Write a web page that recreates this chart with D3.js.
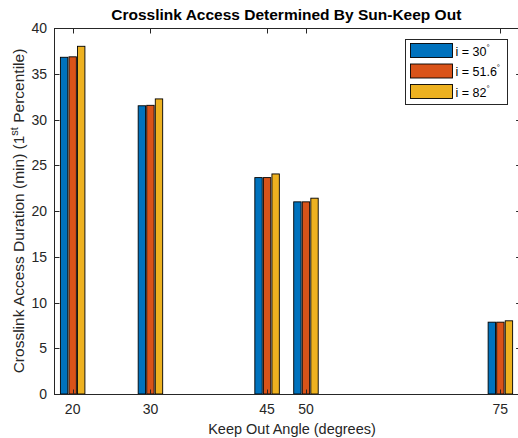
<!DOCTYPE html>
<html>
<head>
<meta charset="utf-8">
<script src="https://cdn.jsdelivr.net/npm/d3@7"></script>
<style>
  html, body { margin: 0; padding: 0; background: #fff; }
  svg { display: block; font-family: "Liberation Sans", Arial, Helvetica, sans-serif; }
</style>
</head>
<body>
<svg id="chart" width="518" height="438"></svg>
<script>
// Keep-out angles (degrees) on the x axis
const angles = [20, 30, 45, 50, 75];
// Orbit inclinations, one bar series each
const seriesNames = ["i = 30", "i = 51.6", "i = 82"];
const seriesColors = ["#0072BD", "#D95319", "#EDB120"];
// Crosslink access duration (min), 1st percentile
const inc30  = [36.8, 31.5, 23.65, 21.0, 7.85];
const inc516 = [36.85, 31.55, 23.65, 21.0, 7.85];
const inc82  = [38.0, 32.25, 24.05, 21.4, 8.0];
const yTicks = [0, 5, 10, 15, 20, 25, 30, 35, 40];

const seriesValues = [inc30, inc516, inc82];

const svg = d3.select("#chart");
const plot = { left: 54, right: 520.6, top: 28, bottom: 394 };
const axisColor = "#262626";
const tickFont = 14, titleFont = 15.5;

const x = d3.scaleLinear().domain([17.6, 77.6]).range([plot.left, plot.right]);
const y = d3.scaleLinear().domain([0, 40]).range([plot.bottom, plot.top]);

// grouped bar geometry in data units
const slot = 1.1, barW = 0.95;

// bars
seriesValues.forEach((vals, si) => {
  svg.append("g")
    .selectAll("rect")
    .data(vals.map((v, i) => ({ a: angles[i], v })))
    .join("rect")
    .attr("x", d => x(d.a + (si - 1) * slot - barW / 2))
    .attr("width", d => x(d.a + barW / 2) - x(d.a - barW / 2))
    .attr("y", d => y(d.v))
    .attr("height", d => y(0) - y(d.v))
    .attr("fill", seriesColors[si])
    .attr("stroke", "#000")
    .attr("stroke-width", 0.9);
});

// axes (ticks point inward, box around the plot)
const tickLen = 5;
const axisG = svg.append("g").attr("fill", "none").attr("stroke", axisColor).attr("stroke-width", 1);
axisG.append("rect")
  .attr("x", plot.left + 0.5).attr("y", plot.top + 0.5)
  .attr("width", plot.right - plot.left).attr("height", plot.bottom - plot.top);

angles.forEach(a => {
  const px = Math.round(x(a)) + 0.5;
  axisG.append("line").attr("x1", px).attr("x2", px).attr("y1", plot.bottom + 0.5).attr("y2", plot.bottom + 0.5 - tickLen);
  axisG.append("line").attr("x1", px).attr("x2", px).attr("y1", plot.top + 0.5).attr("y2", plot.top + 0.5 + tickLen);
});
yTicks.forEach(t => {
  const py = Math.round(y(t)) + 0.5;
  axisG.append("line").attr("x1", plot.left + 0.5).attr("x2", plot.left + 0.5 + tickLen).attr("y1", py).attr("y2", py);
  axisG.append("line").attr("x1", plot.right + 0.5).attr("x2", plot.right + 0.5 - tickLen).attr("y1", py).attr("y2", py);
});

// tick labels
const lab = svg.append("g").attr("fill", axisColor).attr("font-size", tickFont);
angles.forEach(a => {
  lab.append("text").attr("x", x(a)).attr("y", plot.bottom + 20)
    .attr("text-anchor", "middle").text(a);
});
yTicks.forEach(t => {
  lab.append("text").attr("x", plot.left - 7).attr("y", y(t) + 5)
    .attr("text-anchor", "end").text(t);
});

// axis titles
svg.append("text")
  .attr("x", 292).attr("y", 434)
  .attr("text-anchor", "middle").attr("font-size", 14.5).attr("fill", axisColor)
  .text("Keep Out Angle (degrees)");

const yl = svg.append("text")
  .attr("transform", `translate(24,${(plot.top + plot.bottom) / 2}) rotate(-90)`)
  .attr("text-anchor", "middle").attr("font-size", 15.5).attr("fill", axisColor);
yl.append("tspan").text("Crosslink Access Duration (min) (1");
yl.append("tspan").attr("dy", -6).attr("font-size", 11).text("st");
yl.append("tspan").attr("dy", 6).text(" Percentile)");

// title
svg.append("text")
  .attr("x", (plot.left + plot.right) / 2 - 1).attr("y", 20)
  .attr("text-anchor", "middle").attr("font-size", titleFont).attr("font-weight", "bold").attr("fill", "#000")
  .text("Crosslink Access Determined By Sun-Keep Out");

// legend
const leg = svg.append("g").attr("transform", "translate(405.5,39.5)");
leg.append("rect").attr("width", 102).attr("height", 65)
  .attr("fill", "#fff").attr("stroke", axisColor).attr("stroke-width", 1);
seriesNames.forEach((name, i) => {
  const row = leg.append("g").attr("transform", `translate(0,${4 + i * 20.5})`);
  row.append("rect").attr("x", 5).attr("y", 0).attr("width", 42).attr("height", 14)
    .attr("fill", seriesColors[i]).attr("stroke", "#000").attr("stroke-width", 0.9);
  const t = row.append("text").attr("x", 50).attr("y", 12).attr("font-size", 12.5).attr("fill", "#000");
  t.append("tspan").text(name);
  t.append("tspan").attr("dy", -6).attr("font-size", 8).text("°");
});
</script>
</body>
</html>
